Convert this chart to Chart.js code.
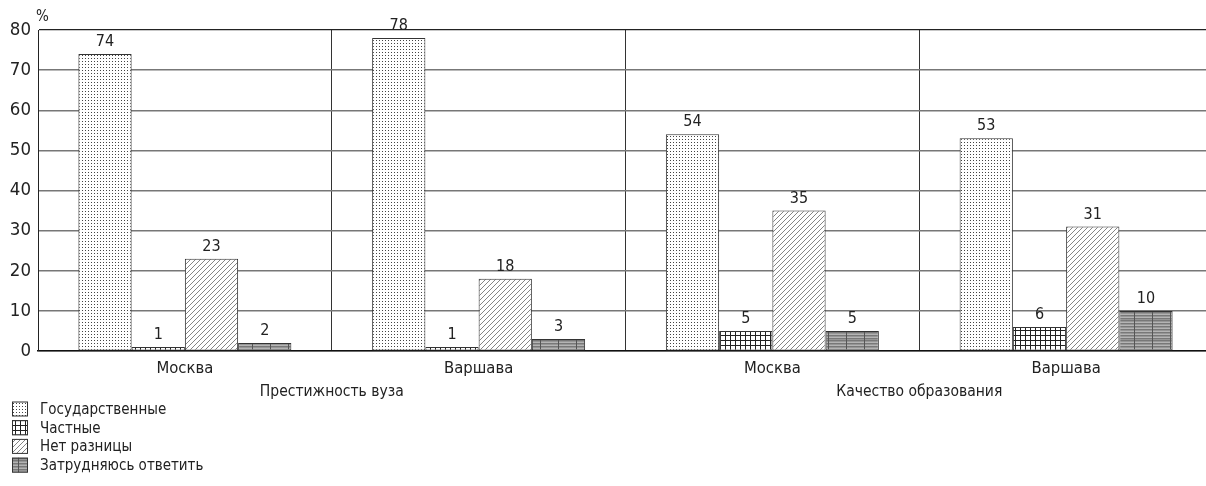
<!DOCTYPE html>
<html>
<head>
<meta charset="utf-8">
<script src="https://cdn.jsdelivr.net/npm/chart.js@4.4.1/dist/chart.umd.min.js"></script>
<style>
  html, body { margin: 0; padding: 0; background: #fff; overflow: hidden; width: 1206px; height: 486px; }
  #wrap { position: relative; width: 1217px; height: 486px; }
</style>
</head>
<body>
<div id="wrap"><canvas id="c" width="1217" height="486"></canvas></div>
<script>
const categories = ['Москва', 'Варшава', 'Москва', 'Варшава'];
const groupLabels = ['', 'Престижность вуза', '', 'Качество образования', ''];
const seriesNames = ['Государственные', 'Частные', 'Нет разницы', 'Затрудняюсь ответить'];
const stateValues = [74, 78, 54, 53];
const privateValues = [1, 1, 5, 6];
const noDiffValues = [23, 18, 35, 31];
const hardValues = [2, 3, 5, 10];
const yTicks = [0, 10, 20, 30, 40, 50, 60, 70, 80];

const FONT = '"Liberation Sans Narrow", "DejaVu Sans Condensed", "Roboto Condensed", "Liberation Sans", sans-serif';

function makePattern(kind) {
  const c = document.createElement('canvas');
  const ctx = c.getContext('2d');
  if (kind === 'dots') {
    c.width = 3; c.height = 3;
    ctx.fillStyle = '#fff'; ctx.fillRect(0, 0, 3, 3);
    ctx.fillStyle = '#444'; ctx.fillRect(1, 1, 1, 1);
  } else if (kind === 'grid') {
    c.width = 5; c.height = 5;
    ctx.fillStyle = '#fff'; ctx.fillRect(0, 0, 5, 5);
    ctx.fillStyle = '#222'; ctx.fillRect(0, 0, 5, 1); ctx.fillRect(0, 0, 1, 5);
  } else if (kind === 'diag') {
    c.width = 5; c.height = 5;
    ctx.fillStyle = '#fff'; ctx.fillRect(0, 0, 5, 5);
    ctx.strokeStyle = '#666'; ctx.lineWidth = 0.8;
    ctx.beginPath();
    ctx.moveTo(-1, 6); ctx.lineTo(6, -1);
    ctx.moveTo(-1, 1); ctx.lineTo(1, -1);
    ctx.moveTo(4, 6); ctx.lineTo(6, 4);
    ctx.stroke();
  } else if (kind === 'stripes') {
    c.width = 18; c.height = 20;
    ctx.fillStyle = '#b4b4b4'; ctx.fillRect(0, 0, 18, 20);
    ctx.fillStyle = '#787878';
    for (let y = 0; y < 20; y += 3) ctx.fillRect(0, y, 18, 1.5);
    ctx.fillStyle = '#555';
    ctx.fillRect(0, 0, 1, 20);
  }
  return document.createElement('canvas').getContext('2d').createPattern(c, 'repeat');
}

const patterns = [makePattern('dots'), makePattern('grid'), makePattern('diag'), makePattern('stripes')];
const seriesValues = [stateValues, privateValues, noDiffValues, hardValues];

const valueLabels = {
  id: 'valueLabels',
  afterDatasetsDraw(chart) {
    const ctx = chart.ctx;
    ctx.save();
    ctx.font = '16px ' + FONT;
    ctx.fillStyle = '#222';
    ctx.textAlign = 'center';
    ctx.textBaseline = 'bottom';
    chart.data.datasets.forEach((ds, i) => {
      const meta = chart.getDatasetMeta(i);
      meta.data.forEach((el, j) => {
        ctx.fillText(String(ds.data[j]), el.x, el.y - 4);
      });
    });
    ctx.restore();
  }
};

const extras = {
  id: 'extras',
  afterDraw(chart) {
    const ctx = chart.ctx;
    const area = chart.chartArea;
    ctx.save();
    ctx.fillStyle = '#222';
    ctx.font = '15px ' + FONT;
    ctx.textAlign = 'left';
    ctx.textBaseline = 'middle';
    ctx.fillText('%', area.left - 2, area.top - 13);
    // legend
    ctx.font = '15px ' + FONT;
    chart.data.datasets.forEach((ds, i) => {
      const yc = 409 + i * 18.7;
      ctx.fillStyle = ds.backgroundColor;
      ctx.fillRect(12, yc - 7.5, 16, 15);
      ctx.strokeStyle = '#333';
      ctx.lineWidth = 1;
      ctx.strokeRect(12.5, yc - 7, 15, 14);
      ctx.fillStyle = '#222';
      ctx.fillText(ds.label, 40, yc + 1);
    });
    ctx.restore();
  }
};

new Chart(document.getElementById('c'), {
  type: 'bar',
  data: {
    labels: categories,
    datasets: seriesNames.map((name, i) => ({
      label: name,
      data: seriesValues[i],
      backgroundColor: patterns[i],
      borderColor: '#333',
      borderWidth: 1,
      borderSkipped: false,
      categoryPercentage: 0.725,
      barPercentage: 1.0,
      xAxisID: 'x'
    }))
  },
  options: {
    responsive: false,
    animation: false,
    devicePixelRatio: 1,
    layout: { padding: { left: 0, right: 2, top: 30, bottom: 77 } },
    plugins: { legend: { display: false }, tooltip: { enabled: false } },
    scales: {
      x: {
        type: 'category',
        position: 'bottom',
        offset: true,
        grid: { offset: true, color: '#333', lineWidth: 1, drawTicks: false },
        border: { display: true, color: '#111', width: 1.5 },
        ticks: { color: '#222', font: { family: FONT, size: 16.5 }, padding: 8, maxRotation: 0, autoSkip: false },
        afterFit(s) { s.height = 28; }
      },
      x2: {
        type: 'linear',
        position: 'bottom',
        offset: false,
        min: 0, max: 4,
        grid: { display: false, drawTicks: false, offset: false },
        border: { display: false },
        ticks: {
          stepSize: 1, autoSkip: false, maxRotation: 0, padding: 4,
          color: '#222', font: { family: FONT, size: 15.5 },
          callback: (v) => groupLabels[v] || ''
        },
        afterFit(s) { s.height = 30; }
      },
      y: {
        min: 0, max: 80,
        afterBuildTicks(s) { s.ticks = yTicks.map(v => ({ value: v })); },
        grid: {
          drawTicks: false,
          color: (c) => (c.tick && (c.tick.value === 0 || c.tick.value === 80)) ? '#222' : '#777',
          lineWidth: (c) => (c.tick && (c.tick.value === 0 || c.tick.value === 80)) ? 1.2 : 1.5
        },
        border: { display: true, color: '#222', width: 1 },
        ticks: { color: '#222', font: { family: FONT, size: 18.5 }, padding: 7 },
        afterFit(s) { s.width = 38; }
      }
    }
  },
  plugins: [valueLabels, extras]
});
</script>
</body>
</html>
